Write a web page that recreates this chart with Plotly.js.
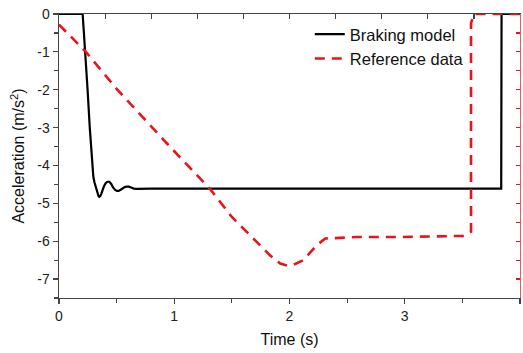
<!DOCTYPE html>
<html>
<head>
<meta charset="utf-8">
<script src="https://cdn.plot.ly/plotly-3.0.1.min.js"></script>
<style>html,body{margin:0;padding:0;background:#fff;}#chart{width:523px;height:353px;}</style>
</head>
<body>
<div id="chart"></div>
<script>
// Braking model (black solid)
const modelTime = [0, 0.205, 0.215, 0.228, 0.248, 0.267, 0.278, 0.287, 0.298, 0.308, 0.316, 0.325, 0.335, 0.343, 0.35, 0.358, 0.367, 0.378, 0.39, 0.405, 0.42, 0.437, 0.452, 0.468, 0.485, 0.502, 0.518, 0.535, 0.552, 0.57, 0.588, 0.605, 0.625, 0.65, 0.68, 0.72, 0.8, 3.837, 3.84, 4.0];
const modelAccel = [0, 0, -0.45, -1.0, -2.0, -3.0, -3.55, -4.0, -4.3, -4.45, -4.55, -4.66, -4.76, -4.81, -4.83, -4.81, -4.75, -4.65, -4.55, -4.47, -4.43, -4.43, -4.48, -4.57, -4.64, -4.67, -4.67, -4.64, -4.6, -4.57, -4.56, -4.56, -4.58, -4.61, -4.62, -4.61, -4.61, -4.61, 0, 0];

// Reference data (red dashed)
const refTime = [0, 0.23, 0.504, 0.937, 1.31, 1.5, 1.83, 1.92, 1.99, 2.05, 2.12, 2.235, 2.31, 2.39, 2.58, 2.957, 3.505, 3.575, 3.575, 3.6, 4.0];
const refAccel = [-0.28, -0.99, -1.99, -3.42, -4.62, -5.36, -6.37, -6.59, -6.65, -6.6, -6.5, -6.11, -5.93, -5.915, -5.89, -5.89, -5.86, -5.75, -0.25, 0, 0];

const seriesNames = ["Braking model", "Reference data"];
const xTickVals = [0, 1, 2, 3, 4];
const xTickText = ["0", "1", "2", "3", "4"];
const yTickVals = [0, -1, -2, -3, -4, -5, -6, -7];
const yTickText = ["0", "-1", "-2", "-3", "-4", "-5", "-6", "-7"];

const FONT = "Arial, 'Liberation Sans', sans-serif";

const traces = [
  {x: modelTime, y: modelAccel, type: "scatter", mode: "lines", name: seriesNames[0],
   line: {color: "#000000", width: 2.2}},
  {x: refTime, y: refAccel, type: "scatter", mode: "lines", name: seriesNames[1],
   line: {color: "#e8141a", width: 2.6, dash: "10px,7px"}},
  {x: [], y: [], type: "scatter", mode: "lines", xaxis: "x2", yaxis: "y2", showlegend: false, hoverinfo: "skip"}
];

const layout = {
  width: 523, height: 353,
  margin: {l: 58.5, r: 2.7, t: 14.3, b: 55.3},
  paper_bgcolor: "#ffffff", plot_bgcolor: "#ffffff",
  font: {family: FONT, size: 14, color: "#222"},
  showlegend: true,
  legend: {x: 0.544, y: 0.99, xanchor: "left", yanchor: "top", bgcolor: "rgba(0,0,0,0)",
           font: {family: FONT, size: 16.5, color: "#111"}, tracegroupgap: 0, itemwidth: 30},
  xaxis: {range: [0, 4], tickvals: xTickVals, ticktext: xTickText, ticks: "outside", ticklen: 5, tickwidth: 1.2,
          tickcolor: "#444", showline: true, linecolor: "#444", linewidth: 1.4, showgrid: false, zeroline: false,
          minor: {dtick: 0.5, tick0: 0, ticks: "outside", ticklen: 4, tickcolor: "#444", tickwidth: 1.2, showgrid: false},
          tickfont: {size: 14, color: "#222"},
          title: {text: "Time (s)", font: {size: 16, color: "#111"}, standoff: 10}},
  yaxis: {range: [-7.5, 0], tickvals: yTickVals, ticktext: yTickText, ticks: "outside", ticklen: 5, tickwidth: 1.2,
          tickcolor: "#444", showline: true, linecolor: "#444", linewidth: 1.4, showgrid: false, zeroline: false,
          minor: {dtick: 0.5, tick0: 0, ticks: "outside", ticklen: 4, tickcolor: "#444", tickwidth: 1.2, showgrid: false},
          tickfont: {size: 14, color: "#222"},
          title: {text: "Acceleration (m/s<sup>2</sup>)", font: {size: 16, color: "#111"}, standoff: 8}},
  xaxis2: {overlaying: "x", side: "top", range: [0, 4], tick0: 0, dtick: 0.4, ticks: "inside", ticklen: 5,
           tickwidth: 1.2, tickcolor: "#444", showline: true, linecolor: "#444", linewidth: 1.4,
           showticklabels: false, showgrid: false, zeroline: false},
  yaxis2: {overlaying: "y", side: "right", range: [-7.5, 0], tick0: 0, dtick: 0.5, ticks: "inside", ticklen: 4,
           tickwidth: 1.2, tickcolor: "#e8141a", showline: true, linecolor: "#e85a5a", linewidth: 1.2,
           showticklabels: false, showgrid: false, zeroline: false}
};

Plotly.newPlot("chart", traces, layout, {staticPlot: true, displayModeBar: false});
</script>
</body>
</html>
